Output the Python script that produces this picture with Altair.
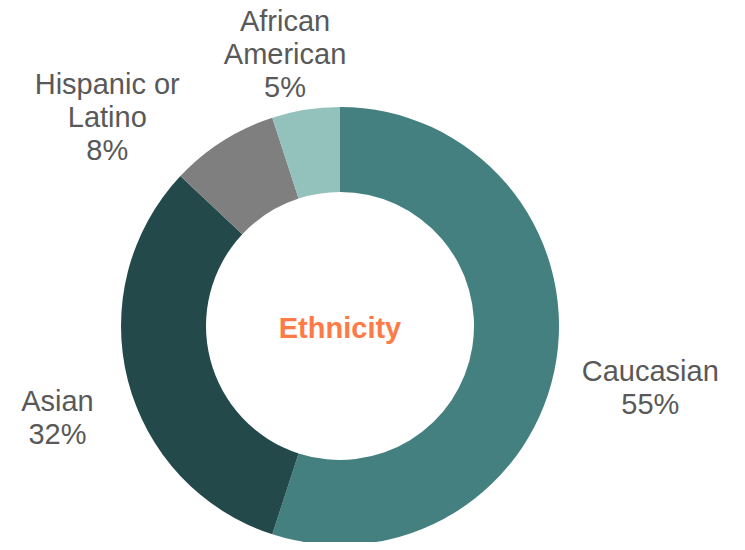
import altair as alt
import pandas as pd

categories = ["Caucasian", "Asian", "Hispanic or Latino", "African American"]
percents = [55, 32, 8, 5]
label_lines = [["Caucasian", "55%"], ["Asian", "32%"], ["Hispanic or", "Latino", "8%"], ["African", "American", "5%"]]
colors = ["#44807f", "#23494a", "#7f7f7f", "#93c1bb"]

df = pd.DataFrame({
    "category": categories,
    "pct": percents,
    "order": list(range(len(categories))),
    "label": label_lines,
})

CX, CY = 332, 318
base = alt.Chart(df).encode(
    theta=alt.Theta("pct:Q", stack=True),
    order=alt.Order("order:Q"),
    x=alt.value(CX),
    y=alt.value(CY),
)

arcs = base.mark_arc(outerRadius=219, innerRadius=134).encode(
    color=alt.Color("category:N", scale=alt.Scale(domain=categories, range=colors), legend=None)
)

offsets = {
    "Caucasian": (14, -1),
    "Asian": (8, 1),
    "Hispanic or Latino": (-72, 12),
    "African American": (-8, -8),
}
layers = [arcs]
for cat in categories:
    dx, dy = offsets[cat]
    layers.append(
        base.mark_text(radius=300, dx=dx, dy=dy, font="Liberation Sans", fontSize=29,
                       color="#595959", align="center", baseline="middle", lineHeight=33)
        .encode(text="label:N", opacity=alt.condition(alt.datum.category == cat, alt.value(1), alt.value(0)))
    )

center = alt.Chart(pd.DataFrame({"t": ["Ethnicity"]})).mark_text(
    font="Liberation Sans", fontSize=29, fontWeight="bold", color="#ff7a45",
    align="center", baseline="middle"
).encode(text="t:N", x=alt.value(CX), y=alt.value(CY + 3))
layers.append(center)

chart = alt.layer(*layers).properties(
    width=729, height=534, padding=0, autosize=alt.AutoSizeParams(type="none")
).configure_view(stroke=None)

chart.save("out.html", embed_options={"renderer": "svg", "actions": False})
